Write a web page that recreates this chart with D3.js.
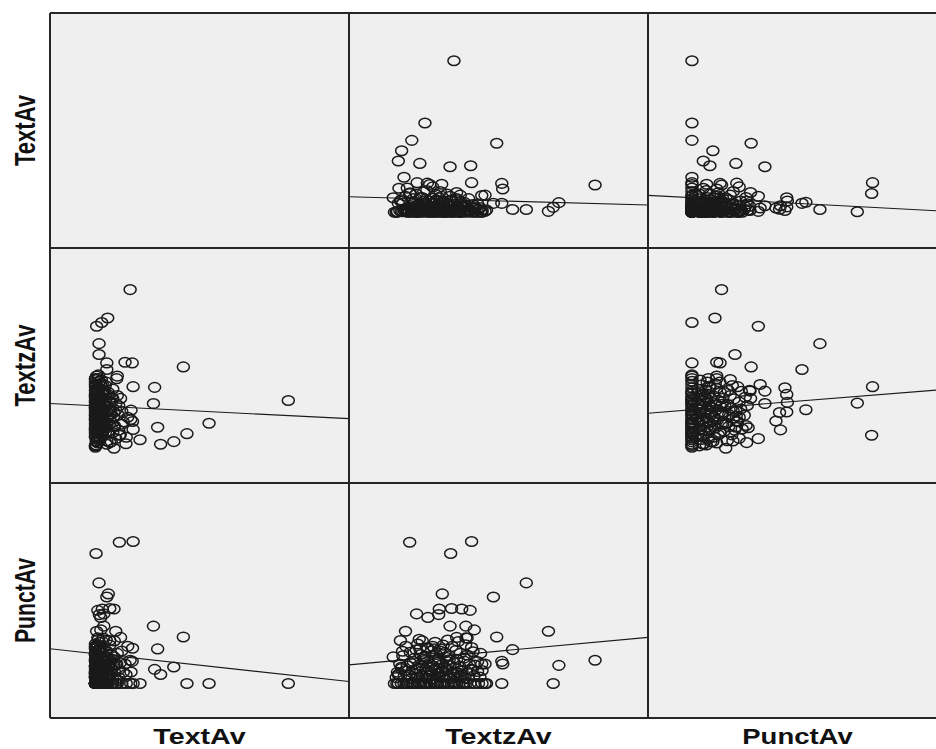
<!DOCTYPE html>
<html>
<head>
<meta charset="utf-8">
<script src="https://cdn.jsdelivr.net/npm/d3@7"></script>
<style>
html,body{margin:0;padding:0;background:#fff;overflow:hidden;}
svg{display:block;}
</style>
</head>
<body>
<svg id="chart" width="936" height="749"></svg>
<script>
// ---------------- DATA ----------------
const variables = ["TextAv", "TextzAv", "PunctAv"];
const domainTextAv = [0, 10];
const domainTextzAv = [0, 10];
const domainPunctAv = [0, 10];

// each observation: [TextAv, TextzAv, PunctAv]
const outlierObs = [
  [7.97, 3.51, 1.47], [5.32, 2.54, 1.47], [4.58, 2.10, 1.47], [4.46, 4.94, 3.45],
  [4.14, 1.76, 2.17], [3.70, 1.65, 1.85], [3.60, 2.37, 2.94], [3.50, 4.07, 2.07],
  [3.46, 3.38, 3.91], [3.01, 1.84, 1.47], [2.78, 2.28, 1.47], [2.71, 3.10, 1.96],
  [2.78, 4.10, 7.51], [2.75, 5.11, 2.41], [2.51, 5.14, 2.30], [2.32, 2.03, 7.48],
  [2.68, 8.23, 2.46], [1.54, 3.40, 7.00], [1.93, 7.02, 2.24], [1.56, 6.67, 3.69],
  [1.73, 6.83, 1.47], [1.64, 5.93, 5.75], [1.64, 5.47, 2.91], [1.90, 5.11, 1.47],
  [1.90, 4.83, 5.15], [1.95, 3.12, 5.28], [1.80, 2.26, 4.43], [1.70, 2.64, 4.28],
  [2.14, 3.02, 4.64], [1.60, 4.05, 4.58], [1.75, 3.77, 4.64], [2.00, 3.43, 4.66],
  [1.65, 3.00, 4.40], [1.70, 4.19, 3.75], [1.80, 3.91, 3.91], [1.60, 3.91, 3.41],
  [2.20, 1.89, 3.69], [2.00, 1.72, 3.30], [1.90, 1.79, 2.84], [2.14, 1.48, 2.60],
  [2.23, 4.44, 2.30], [2.54, 1.67, 1.85], [2.36, 3.60, 3.43], [2.76, 2.62, 2.97]
];

const clusterObs = [
  [1.52, 1.60, 1.47], [1.55, 1.75, 1.47], [1.60, 1.92, 1.47], [1.70, 2.05, 1.47],
  [1.52, 2.20, 1.47], [1.85, 2.35, 1.47], [1.58, 2.48, 1.47], [1.66, 2.60, 1.47],
  [1.52, 2.72, 1.47], [1.95, 2.85, 1.47], [1.60, 2.95, 1.47], [1.75, 3.05, 1.47],
  [1.52, 3.18, 1.47], [1.62, 3.30, 1.47], [2.05, 3.42, 1.47], [1.55, 3.55, 1.47],
  [1.70, 3.68, 1.47], [1.52, 3.80, 1.47], [1.82, 3.92, 1.47], [1.58, 4.05, 1.47],
  [1.52, 4.20, 1.47], [1.65, 4.33, 1.47], [1.52, 4.45, 1.47], [2.25, 4.55, 1.47],
  [1.90, 1.65, 1.47], [2.10, 2.15, 1.47], [2.40, 2.50, 1.47], [1.52, 2.90, 1.47],
  [2.20, 3.10, 1.47], [1.78, 3.60, 1.47], [2.55, 1.95, 1.47], [1.52, 1.52, 1.47],
  [2.70, 2.70, 1.47], [1.62, 4.60, 1.47],
  [1.52, 1.58, 1.72], [1.60, 1.85, 1.78], [1.75, 2.10, 1.68], [1.52, 2.30, 1.75],
  [1.90, 2.45, 1.80], [1.55, 2.62, 1.70], [1.65, 2.80, 1.66], [2.00, 2.95, 1.76],
  [1.52, 3.10, 1.72], [1.70, 3.25, 1.80], [1.58, 3.40, 1.68], [1.85, 3.55, 1.74],
  [1.52, 3.72, 1.78], [1.62, 3.88, 1.70], [2.10, 4.00, 1.66], [1.55, 4.18, 1.80],
  [1.72, 4.38, 1.74], [2.30, 2.25, 1.72], [1.52, 2.00, 1.85], [1.95, 3.75, 1.85],
  [1.55, 1.62, 1.95], [1.68, 1.88, 2.02], [1.52, 2.12, 1.92], [1.80, 2.28, 2.08],
  [2.15, 2.40, 1.98], [1.60, 2.58, 2.05], [1.52, 2.75, 1.95], [1.75, 2.88, 2.10],
  [1.90, 3.00, 1.92], [1.55, 3.15, 2.00], [2.30, 3.28, 2.06], [1.65, 3.45, 1.95],
  [1.52, 3.62, 2.08], [1.85, 3.78, 2.00], [1.58, 3.95, 1.93], [1.70, 4.12, 2.05],
  [1.52, 4.30, 1.98], [2.05, 1.75, 2.10], [2.45, 2.60, 1.95], [1.62, 4.45, 2.02],
  [1.60, 1.70, 2.30], [1.52, 1.95, 2.22], [1.85, 2.15, 2.40], [1.70, 2.35, 2.25],
  [1.52, 2.52, 2.45], [2.00, 2.68, 2.32], [1.65, 2.82, 2.20], [1.55, 2.98, 2.38],
  [1.80, 3.12, 2.28], [1.52, 3.25, 2.42], [2.20, 3.38, 2.25], [1.68, 3.52, 2.35],
  [1.52, 3.70, 2.20], [1.95, 3.85, 2.42], [1.60, 4.02, 2.30], [1.75, 4.22, 2.25],
  [2.35, 2.05, 2.35], [1.52, 3.00, 2.50], [2.10, 3.60, 2.50], [1.58, 2.20, 2.55],
  [1.55, 1.80, 2.65], [1.70, 2.05, 2.80], [1.52, 2.40, 2.70], [1.90, 2.55, 2.62],
  [1.62, 2.75, 2.85], [2.05, 2.92, 2.70], [1.52, 3.20, 2.78], [1.78, 3.35, 2.65],
  [1.60, 3.58, 2.88], [2.25, 3.72, 2.75], [1.52, 3.95, 2.68], [1.85, 4.15, 2.82],
  [1.65, 2.25, 2.90], [2.40, 3.05, 2.85], [1.52, 4.40, 2.75],
  [1.58, 1.90, 3.05], [1.52, 2.30, 3.15], [1.80, 2.62, 3.00], [1.65, 2.88, 3.22],
  [2.00, 3.15, 3.10], [1.52, 3.45, 3.05], [1.75, 3.65, 3.25], [1.60, 3.90, 3.12],
  [2.15, 2.45, 3.28], [1.52, 4.10, 3.00], [1.88, 3.30, 3.32], [2.60, 2.80, 3.05],
  [1.58, 2.15, 1.47], [1.64, 2.40, 1.47], [1.52, 3.35, 1.47], [1.72, 3.85, 1.47],
  [1.56, 2.55, 1.72], [1.68, 3.00, 1.74], [1.78, 2.70, 1.82], [1.52, 3.50, 1.88],
  [1.62, 2.25, 1.88], [1.74, 3.60, 1.95], [1.58, 2.95, 2.12], [1.66, 3.20, 2.15],
  [1.52, 2.65, 2.18], [1.80, 2.45, 2.20], [1.60, 3.35, 2.48], [1.72, 2.90, 2.45],
  [1.55, 3.85, 2.55], [1.68, 2.50, 2.60], [1.85, 3.25, 2.58], [1.52, 2.85, 2.95],
  [1.70, 3.05, 2.95], [1.62, 2.35, 3.35], [1.78, 3.95, 3.40], [1.95, 2.20, 2.05],
  [2.05, 3.65, 1.90], [1.98, 2.50, 2.50], [2.12, 2.80, 2.22], [1.88, 4.30, 2.40],
  [2.28, 2.90, 1.60], [1.56, 4.55, 2.30]
];

// fitted lines (y = intercept + slope * x)
const fitLines = [
  { y: "TextAv",  x: "TextzAv", intercept: 2.18, slope: -0.035 },
  { y: "TextAv",  x: "PunctAv", intercept: 2.24, slope: -0.068 },
  { y: "TextzAv", x: "TextAv",  intercept: 3.38, slope: -0.064 },
  { y: "TextzAv", x: "PunctAv", intercept: 2.97, slope: 0.102 },
  { y: "PunctAv", x: "TextAv",  intercept: 2.95, slope: -0.140 },
  { y: "PunctAv", x: "TextzAv", intercept: 2.26, slope: 0.117 }
];

const labelLengths = [71, 82, 85];

(function () {
// ---------------- LAYOUT ----------------
const leftX = 50, topY = 13, cellW = 299, cellH = 235;
const stretch = 1.3;
const domains = { TextAv: domainTextAv, TextzAv: domainTextzAv, PunctAv: domainPunctAv };
const observations = outlierObs.concat(clusterObs);

const svg = d3.select("#chart");
const n = variables.length;

const xScales = {}, yScales = {};
variables.forEach((v, i) => {
  xScales[v] = d3.scaleLinear().domain(domains[v]).range([leftX + i * cellW, leftX + (i + 1) * cellW]);
  yScales[v] = d3.scaleLinear().domain(domains[v]).range([topY + (i + 1) * cellH, topY + i * cellH]);
});

const defs = svg.append("defs");

variables.forEach((rv, ri) => {
  variables.forEach((cv, ci) => {
    const x0 = leftX + ci * cellW, y0 = topY + ri * cellH;
    const id = "clip-" + ri + "-" + ci;
    defs.append("clipPath").attr("id", id)
      .append("rect").attr("x", x0).attr("y", y0).attr("width", cellW).attr("height", cellH);
    const g = svg.append("g").attr("clip-path", "url(#" + id + ")");
    g.append("rect").attr("x", x0).attr("y", y0).attr("width", cellW).attr("height", cellH)
      .attr("fill", "#efefef");
    if (ri === ci) return;
    const xs = xScales[cv], ys = yScales[rv];
    g.selectAll("ellipse").data(observations).join("ellipse")
      .attr("cx", d => xs(d[ci]))
      .attr("cy", d => ys(d[ri]))
      .attr("rx", 6).attr("ry", 4.8)
      .attr("fill", "none")
      .attr("stroke", "#1a1a1a")
      .attr("stroke-width", 1.5);
    const fl = fitLines.find(f => f.y === rv && f.x === cv);
    if (fl) {
      const dom = xs.domain();
      const line = d3.line().x(d => xs(d)).y(d => ys(fl.intercept + fl.slope * d));
      g.append("path").attr("d", line(dom))
        .attr("fill", "none").attr("stroke", "#1a1a1a").attr("stroke-width", 1.1);
    }
  });
});

// grid borders
const bx = d3.range(n + 1).map(i => leftX + i * cellW);
const by = d3.range(n + 1).map(i => topY + i * cellH);
svg.selectAll("line.v").data(bx).join("line").attr("class", "v")
  .attr("x1", d => d).attr("x2", d => d).attr("y1", topY).attr("y2", topY + n * cellH)
  .attr("stroke", "#262626").attr("stroke-width", 2);
svg.selectAll("line.h").data(by).join("line").attr("class", "h")
  .attr("x1", leftX).attr("x2", leftX + n * cellW).attr("y1", d => d).attr("y2", d => d)
  .attr("stroke", "#262626").attr("stroke-width", 2);

// labels
const font = "'Liberation Sans', Arial, Helvetica, sans-serif";
variables.forEach((v, i) => {
  const cx = leftX + (i + 0.5) * cellW;
  svg.append("text")
    .attr("transform", `translate(${cx},744) scale(${stretch},1)`)
    .attr("text-anchor", "middle")
    .attr("font-family", font).attr("font-weight", "bold").attr("font-size", 22)
    .attr("textLength", labelLengths[i]).attr("lengthAdjust", "spacingAndGlyphs")
    .attr("fill", "#111").text(v);
  const cy = topY + (i + 0.5) * cellH;
  svg.append("text")
    .attr("transform", `translate(35,${cy}) scale(${stretch},1) rotate(-90)`)
    .attr("text-anchor", "middle")
    .attr("font-family", font).attr("font-weight", "bold").attr("font-size", 22)
    .attr("textLength", labelLengths[i]).attr("lengthAdjust", "spacingAndGlyphs")
    .attr("fill", "#111").text(v);
});
})();
</script>
</body>
</html>
